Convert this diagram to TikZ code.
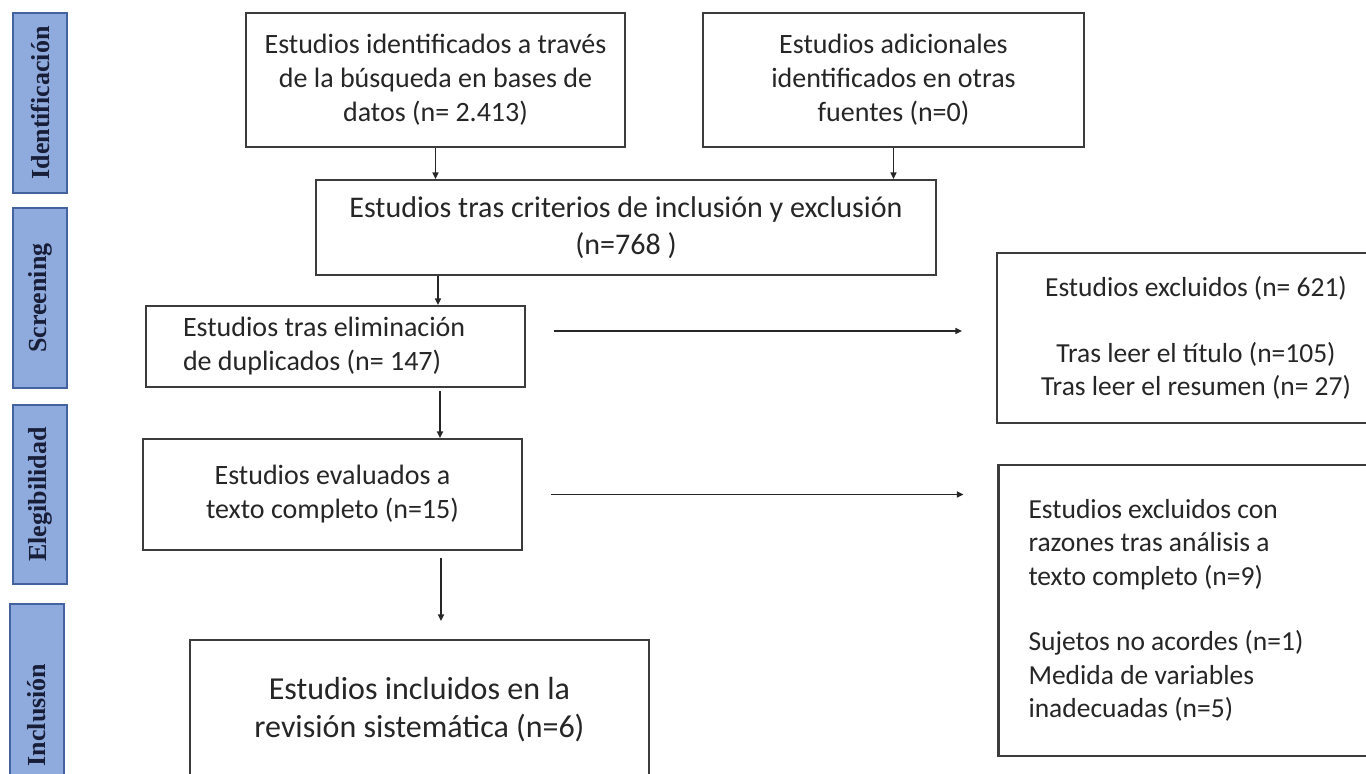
\documentclass[tikz,border=0pt]{standalone}
\usepackage{fontspec}
\setmainfont{Carlito}
\newfontfamily\sidefont{Liberation Serif}
\usetikzlibrary{arrows.meta}
\definecolor{sidefill}{RGB}{143,170,220}
\definecolor{sideline}{RGB}{68,98,160}
\definecolor{sidetext}{RGB}{24,30,56}
\definecolor{txt}{RGB}{38,38,38}
\definecolor{boxline}{RGB}{60,60,60}
\begin{document}
\begin{tikzpicture}[x=1pt,y=-1pt,
  box/.style={draw=boxline, line width=2.2pt, text=txt, inner sep=0pt, align=center},
  sidebox/.style={draw=sideline, line width=1.6pt, fill=sidefill, text=sidetext, rotate=90,
     minimum height=54pt, inner sep=0pt, font=\sidefont\bfseries\fontsize{26}{28}\selectfont},
  arr/.style={draw=black!85, line width=1.3pt, -{Triangle[length=6.5pt,width=6pt]}},
  fA/.style={font=\fontsize{28}{34}\selectfont},
  fR/.style={font=\fontsize{27.5}{33.5}\selectfont},
]
\useasboundingbox (0,0) rectangle (1366,774);
\clip (0,0) rectangle (1366,774);
\fill[white] (0,0) rectangle (1366,774);

% phase labels
\node[sidebox, minimum width=180pt] (s1) at (40,103) {Identificación};
\node[sidebox, minimum width=180pt] (s2) at (40,298) {Screening};
\node[sidebox, minimum width=179pt] (s3) at (40,494.5) {Elegibilidad};
\node[sidebox, minimum width=222pt] (s4) at (37,715) {Inclusión};

% boxes
\node[box, fA, minimum width=379pt, minimum height=134pt] (A) at (435.5,80)
  {Estudios identificados a través\\de la búsqueda en bases de\\datos (n= 2.413)};
\node[box, fA, minimum width=381pt, minimum height=134pt] (B) at (893.5,80)
  {Estudios adicionales\\identificados en otras\\fuentes (n=0)};
\node[box, font=\fontsize{30}{37}\selectfont, minimum width=620pt, minimum height=95pt] (C) at (626,227.5)
  {Estudios tras criterios de inclusión y exclusión\\(n=768 )};
\node[box, fA, align=flush left, inner xsep=37pt, text width=305pt, minimum height=81pt] (D) at (335.5,346.5)
  {Estudios tras eliminación\\de duplicados (n= 147)};
\node[box, fA, minimum width=379pt, minimum height=111pt] (E) at (332.5,494.5)
  {Estudios evaluados a\\texto completo (n=15)};
\node[box, font=\fontsize{32}{38}\selectfont, minimum width=459pt, minimum height=140pt] (F) at (419.5,710)
  {Estudios incluidos en la\\revisión sistemática (n=6)};
\node[box, fR, minimum width=398pt, minimum height=170pt] (R1) at (1196,338)
  {Estudios excluidos (n= 621)\\[32pt]Tras leer el título (n=105)\\Tras leer el resumen (n= 27)};
\node[box, fR, align=flush left, inner xsep=30pt, text width=343pt, minimum height=291pt] (R2) at (1200,610.5)
  {Estudios excluidos con\\razones tras análisis a\\texto completo (n=9)\\[32pt]Sujetos no acordes (n=1)\\Medida de variables\\inadecuadas (n=5)};

% connectors
\draw[arr] (A.south) -- (A.south |- C.north);
\draw[arr] (B.south) -- (B.south |- C.north);
\draw[arr] ([xshift=-188pt]C.south) -- ([xshift=-188pt]C.south |- D.north);
\draw[arr, shorten <=3pt] ([xshift=104.5pt]D.south) -- ([xshift=104.5pt]D.south |- E.north);
\draw[arr, shorten <=7pt, shorten >=18pt] ([xshift=108.5pt]E.south) -- ([xshift=108.5pt]E.south |- F.north);
\draw[arr, shorten <=28pt, shorten >=34pt] ([yshift=15.5pt]D.east) -- ([yshift=15.5pt]D.east -| R1.west);
\draw[arr, shorten <=28pt, shorten >=34pt] (E.east) -- (E.east -| R2.west);
\end{tikzpicture}
\end{document}
